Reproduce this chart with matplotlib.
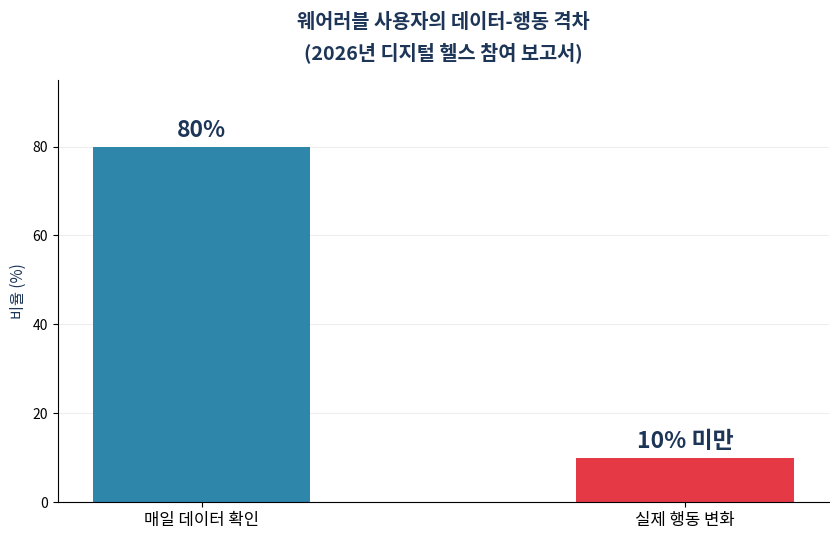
import matplotlib
matplotlib.use("Agg")
import matplotlib.pyplot as plt

plt.rcParams['font.family'] = ['Noto Sans CJK KR', 'DejaVu Sans']

categories = ["매일 데이터 확인", "실제 행동 변화"]
values = [80, 10]
labels = ["80%", "10% 미만"]
colors = ["#2E86AB", "#E63946"]

fig, ax = plt.subplots(figsize=(8.39, 5.4), dpi=100)
x = list(range(len(categories)))
bars = ax.bar(x, values, width=0.45, color=colors, zorder=2)
for b, lab in zip(bars, labels):
    ax.text(b.get_x() + b.get_width() / 2, b.get_height() + 1.0, lab,
            ha='center', va='bottom', fontsize=16.5, fontweight='bold', color='#1D3557')
ax.set_xticks(x)
ax.set_xticklabels(categories, fontsize=12)
ax.set_ylim(0, 95)
ax.set_yticks([0, 20, 40, 60, 80])
ax.tick_params(axis='y', labelsize=10)
ax.set_ylabel("비율 (%)", fontsize=11, color='#1D3557')
ax.set_title("웨어러블 사용자의 데이터-행동 격차\n(2026년 디지털 헬스 참여 보고서)",
             fontsize=14.2, fontweight='bold', color='#1D3557', pad=15, linespacing=1.6)
ax.grid(axis='y', color='#e8e8e8', alpha=0.7, zorder=0)
ax.spines['top'].set_visible(False)
ax.spines['right'].set_visible(False)
fig.subplots_adjust(left=0.069, right=0.988, top=0.852, bottom=0.07)
fig.savefig("out.png", dpi=100)
